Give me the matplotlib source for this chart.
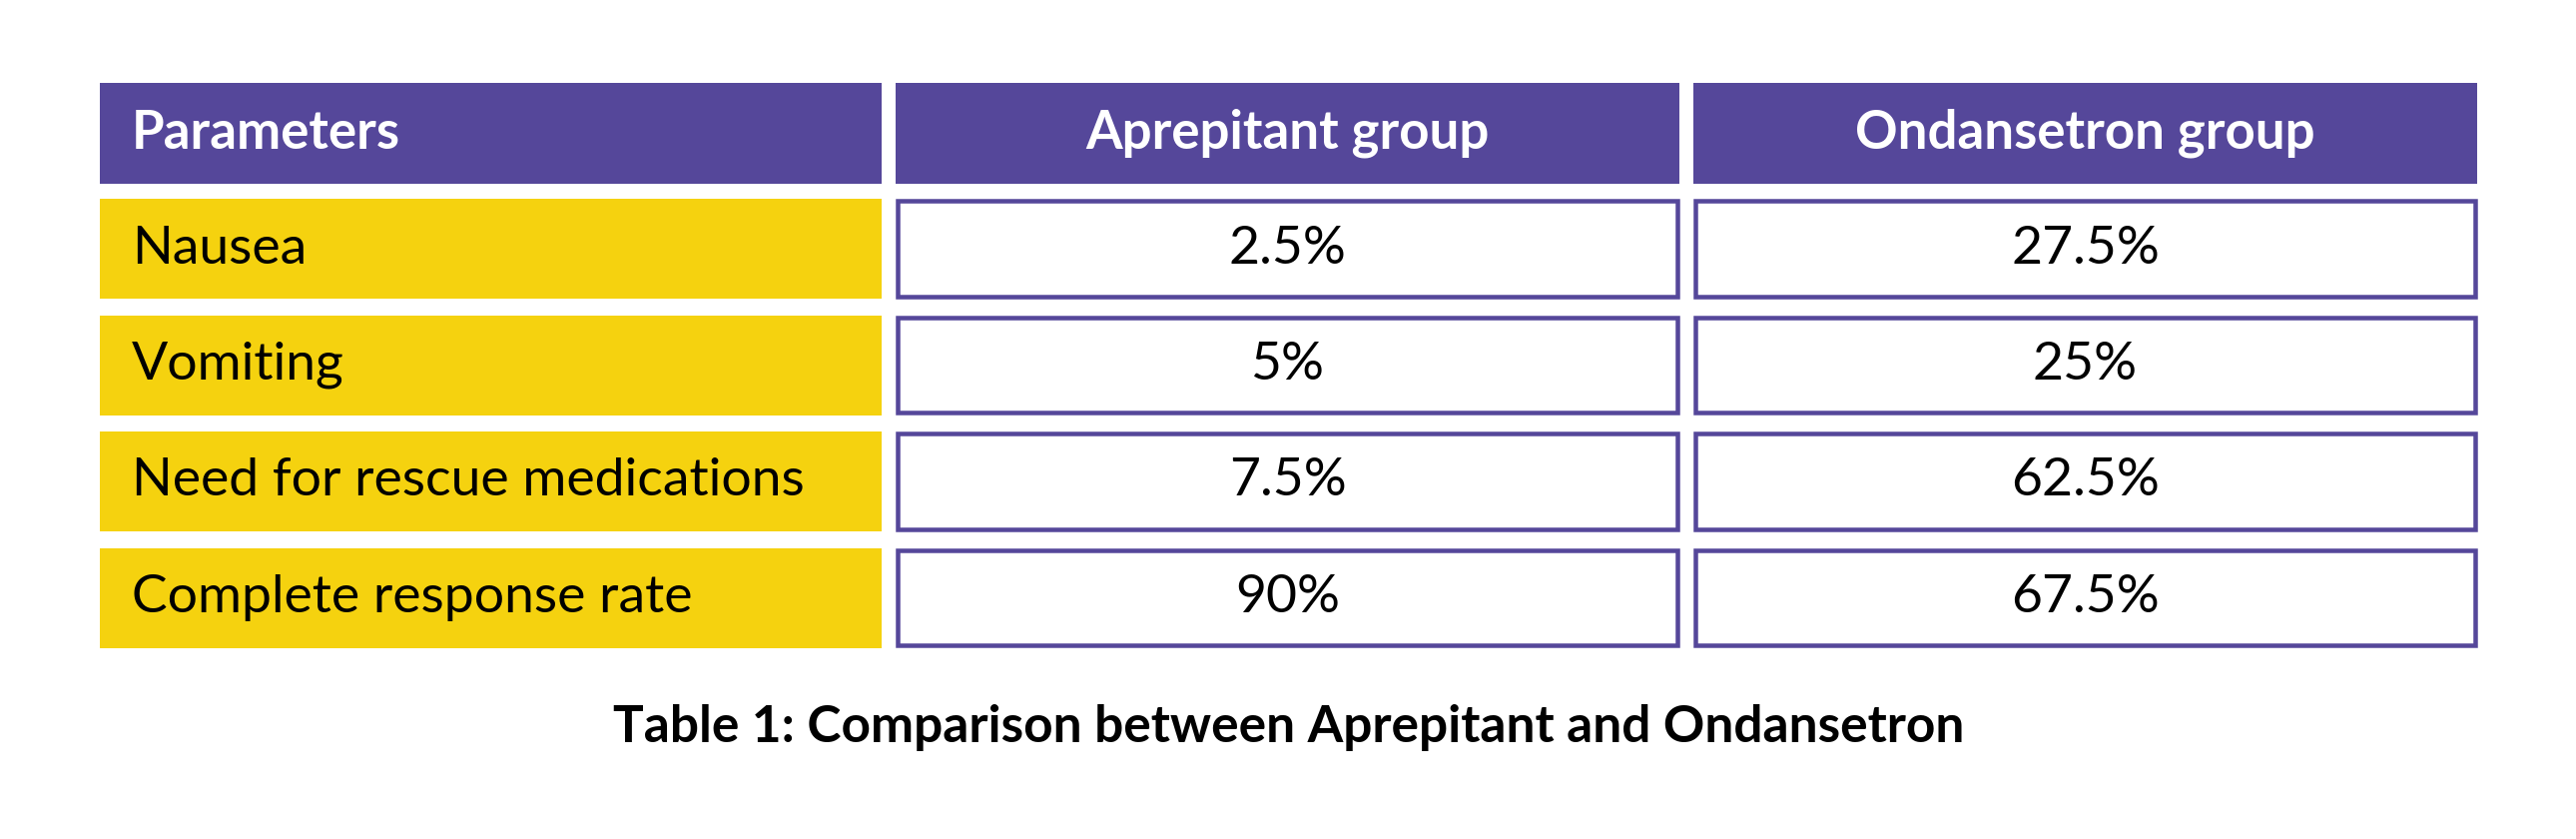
import matplotlib.pyplot as plt
from matplotlib.patches import Rectangle

# table contents
headers = ["Parameters", "Aprepitant group", "Ondansetron group"]
parameters = ["Nausea", "Vomiting", "Need for rescue medications", "Complete response rate"]
aprepitant = [2.5, 5, 7.5, 90]
ondansetron = [27.5, 25, 62.5, 67.5]
caption = "Table 1: Comparison between Aprepitant and Ondansetron"

purple = "#55479a"
yellow = "#f5d20f"

plt.rcParams['font.family'] = ['Lato', 'DejaVu Sans']

fig = plt.figure(figsize=(25.8, 8.4), dpi=100)
ax = fig.add_axes([0, 0, 1, 1])
ax.set_xlim(0, 2580)
ax.set_ylim(840, 0)
ax.axis('off')

# column edges (px)
col_x = [100, 897, 1696]
col_w = [783, 785, 785]
head_y, head_h = 83, 101
row_y0, row_h, row_step = 199, 100, 116.5
pad = 32
bw = 4.5  # border px

# header
for j, h in enumerate(headers):
    ax.add_patch(Rectangle((col_x[j], head_y), col_w[j], head_h, facecolor=purple, edgecolor='none'))
    if j == 0:
        ax.text(col_x[j] + pad, head_y + head_h / 2, h, ha='left', va='center',
                fontsize=38, fontweight='bold', color='white')
    else:
        ax.text(col_x[j] + col_w[j] / 2, head_y + head_h / 2, h, ha='center', va='center',
                fontsize=38, fontweight='bold', color='white')

# body
for i, p in enumerate(parameters):
    y = row_y0 + i * row_step
    ax.add_patch(Rectangle((col_x[0], y), col_w[0], row_h, facecolor=yellow, edgecolor='none'))
    ax.text(col_x[0] + pad, y + row_h / 2, p, ha='left', va='center', fontsize=38.5,
            color='black')
    for j, vals in zip([1, 2], [aprepitant, ondansetron]):
        ax.add_patch(Rectangle((col_x[j] + bw / 2, y + bw / 2), col_w[j] - bw, row_h - bw,
                               facecolor='white', edgecolor=purple, linewidth=bw * 0.72))
        ax.text(col_x[j] + col_w[j] / 2, y + row_h / 2, f"{vals[i]:g}%", ha='center', va='center',
                fontsize=38.5, color='black')

ax.text(1291, 729, caption, ha='center', va='center', fontsize=37, fontweight='bold', color='black')

fig.savefig("out.png", dpi=100)
